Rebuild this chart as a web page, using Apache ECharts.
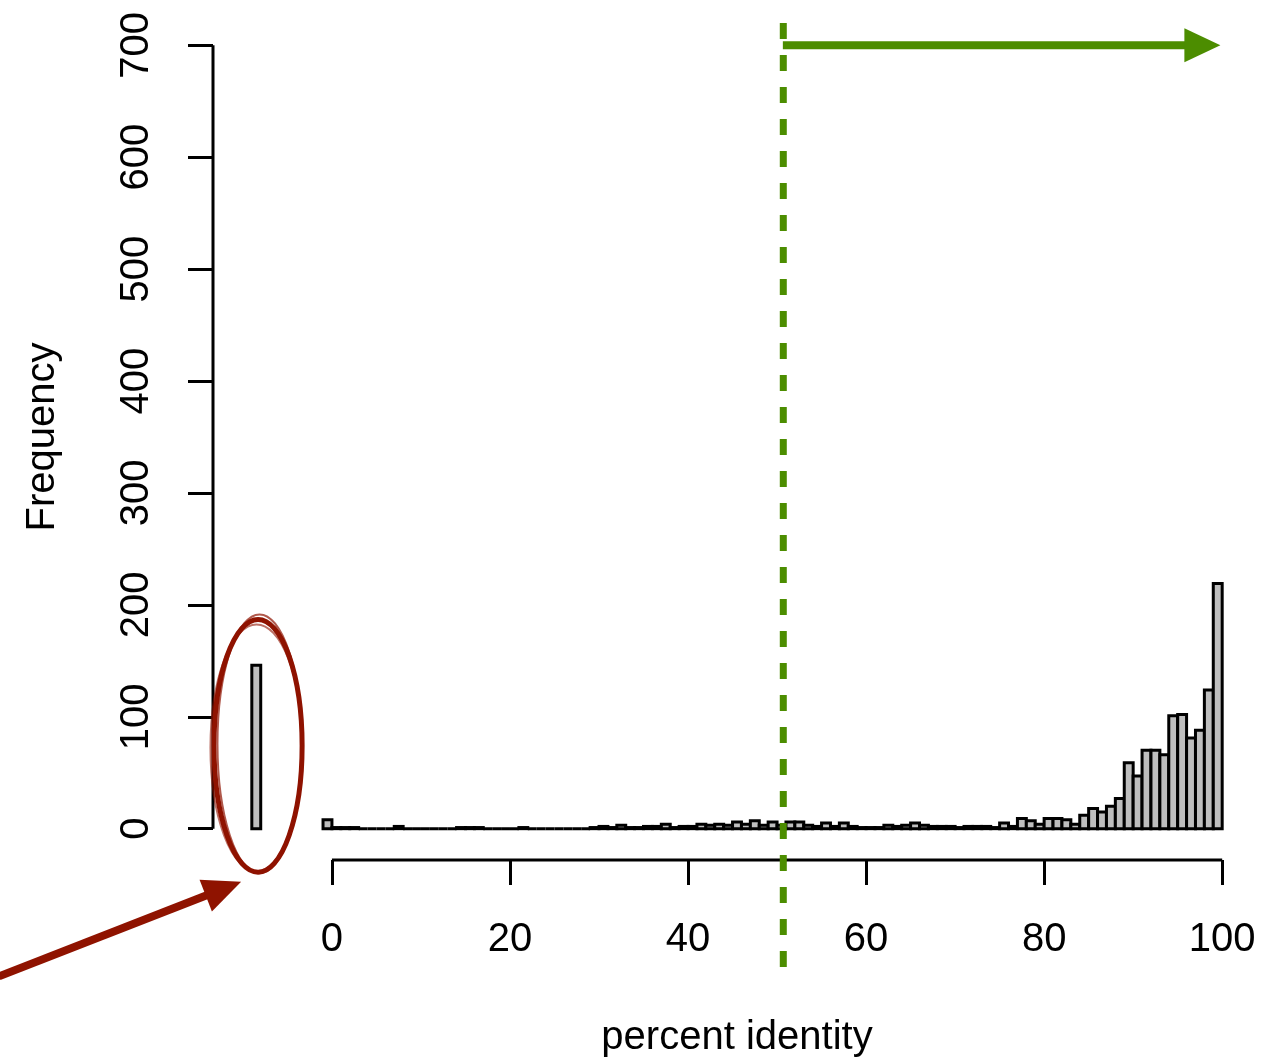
<!DOCTYPE html>
<html>
<head>
<meta charset="utf-8">
<script src="https://cdn.jsdelivr.net/npm/echarts@6/dist/echarts.min.js"></script>
<style>
html,body{margin:0;padding:0;background:#fff;}
#chart{width:1288px;height:1062px;}
</style>
</head>
<body>
<div id="chart"></div>
<script>
// ---- data ----
// histogram bins: right edges (each bin is 1 unit wide, (edge-1, edge])
const binRightEdges = [-8, 0,1,2,3,4,5,6,7,8,9,10,11,12,13,14,15,16,17,18,19,20,21,22,23,24,25,26,27,28,29,30,31,32,33,34,35,36,37,38,39,40,41,42,43,44,45,46,47,48,49,50,51,52,53,54,55,56,57,58,59,60,61,62,63,64,65,66,67,68,69,70,71,72,73,74,75,76,77,78,79,80,81,82,83,84,85,86,87,88,89,90,91,92,93,94,95,96,97,98,99,100];
const binCounts = [146, 8,1,1,1,0,0,0,0,2,0,0,0,0,0,0,1,1,1,0,0,0,0,1,0,0,0,0,0,0,0,1,2,1,3,1,1,2,2,4,1,2,2,4,3,4,3,6,4,7,3,6,3,6,6,3,2,5,2,5,2,1,1,1,3,2,3,5,3,2,2,2,1,2,2,2,1,5,2,9,7,4,9,9,8,4,12,18,15,20,27,59,47,70,70,66,101,102,81,88,124,219];
const xTicks = [0,20,40,60,80,100];
const yTicks = [0,100,200,300,400,500,600,700];
const cutoff = 50.7;          // dashed threshold line position
const arrowEnd = 99.8;        // green arrow tip
const arrowLevel = 700;       // green arrow height
const xRange = [-13.36, 104.36];
const yRange = [-28, 728];

const barData = binRightEdges.map((r, i) => [r - 1, r, binCounts[i]]);

const font = "'Liberation Sans', Arial, Helvetica, sans-serif";
const red = '#8f1300';
const green = '#4c8d00';
const lw = 3;

const chart = echarts.init(document.getElementById('chart'));

function arrowHead(tip, from, len, half) {
  const dx = tip[0] - from[0], dy = tip[1] - from[1];
  const L = Math.sqrt(dx*dx + dy*dy);
  const ux = dx / L, uy = dy / L;
  const bx = tip[0] - len * ux, by = tip[1] - len * uy;
  const nx = -uy, ny = ux;
  return {
    base: [bx + 0.3*len*ux, by + 0.3*len*uy],
    pts: [tip, [bx + half*nx, by + half*ny], [bx - half*nx, by - half*ny]]
  };
}

chart.setOption({
  animation: false,
  backgroundColor: '#fff',
  grid: { left: 213, right: 27, top: 14, bottom: 202, containLabel: false, outerBoundsMode: 'none' },
  xAxis: {
    type: 'value', min: xRange[0], max: xRange[1],
    splitLine: { show: false },
    axisLine: { show: false, onZero: false },
    axisTick: { show: true, customValues: xTicks, length: 25, lineStyle: { color: '#000', width: lw } },
    axisLabel: { show: true, customValues: xTicks, margin: 60, fontSize: 40, color: '#000', fontFamily: font },
    name: 'percent identity', nameLocation: 'middle', nameGap: 158,
    nameTextStyle: { fontSize: 40, color: '#000', fontFamily: font }
  },
  yAxis: {
    type: 'value', min: yRange[0], max: yRange[1],
    splitLine: { show: false },
    axisLine: { show: false, onZero: false },
    axisTick: { show: true, customValues: yTicks, length: 25, lineStyle: { color: '#000', width: lw } },
    axisLabel: { show: true, customValues: yTicks, rotate: 90, margin: 56, fontSize: 40, color: '#000', fontFamily: font },
    name: 'Frequency', nameLocation: 'middle', nameGap: 150, nameRotate: 90,
    nameTextStyle: { fontSize: 40, color: '#000', fontFamily: font }
  },
  series: [
    { // y axis line (0..700)
      type: 'line', data: [[xRange[0], yTicks[0]], [xRange[0], yTicks[yTicks.length-1]]],
      symbol: 'none', clip: false, silent: true,
      lineStyle: { color: '#000', width: lw }
    },
    { // x axis line (0..100)
      type: 'line', data: [[xTicks[0], yRange[0]], [xTicks[xTicks.length-1], yRange[0]]],
      symbol: 'none', clip: false, silent: true,
      lineStyle: { color: '#000', width: lw }
    },
    { // histogram bars
      type: 'custom', data: barData, clip: false,
      renderItem: function (params, api) {
        const p0 = api.coord([api.value(0), api.value(2)]);
        const p1 = api.coord([api.value(1), 0]);
        return {
          type: 'rect',
          shape: { x: p0[0], y: p0[1], width: p1[0] - p0[0], height: p1[1] - p0[1] },
          style: { fill: '#bebebe', stroke: '#000', lineWidth: lw }
        };
      }
    },
    { // annotations
      type: 'custom', data: [[0]], clip: false, silent: true, z: 10,
      renderItem: function (params, api) {
        const children = [];
        // green dashed cutoff line
        const gTop = api.coord([cutoff, 720]);
        const gBot = api.coord([cutoff, -124]);
        children.push({ type: 'line', shape: { x1: gTop[0], y1: gTop[1], x2: gBot[0], y2: gBot[1] },
          style: { stroke: green, lineWidth: 7, lineDash: [16, 16] } });
        // green arrow
        const aStart = api.coord([cutoff - 0.05, arrowLevel]);
        const aTip = api.coord([arrowEnd, arrowLevel]);
        const gh = arrowHead(aTip, aStart, 36, 17);
        children.push({ type: 'line', shape: { x1: aStart[0], y1: aStart[1], x2: gh.base[0], y2: gh.base[1] },
          style: { stroke: green, lineWidth: 8 } });
        children.push({ type: 'polygon', shape: { points: gh.pts }, style: { fill: green } });
        // red ellipse around outlier bar
        const c = api.coord([-8.3, 74]);
        const e = api.coord([-3.35, 187]);
        const rx = e[0] - c[0], ry = c[1] - e[1];
        const offs = [[0,0,0,0,5,1],[1.5,-2,-2,3,2,0.7],[-1.5,2,2,-3,2,0.6]];
        offs.forEach(o => {
          const cx = c[0] + o[0], cy = c[1] + o[1], a = rx + o[2], b = ry + o[3];
          children.push({ type: 'path', shape: {
              pathData: 'M' + (cx - a) + ' ' + cy + ' A' + a + ' ' + b + ' 0 1 0 ' + (cx + a) + ' ' + cy +
                        ' A' + a + ' ' + b + ' 0 1 0 ' + (cx - a) + ' ' + cy + ' Z' },
            style: { fill: 'none', stroke: red, lineWidth: o[4], opacity: o[5] } });
        });
        // red arrow
        const rStart = api.coord([-37.4, -132]);
        const rTip = api.coord([-10.2, -47.5]);
        const rh = arrowHead(rTip, rStart, 38, 17);
        children.push({ type: 'line', shape: { x1: rStart[0], y1: rStart[1], x2: rh.base[0], y2: rh.base[1] },
          style: { stroke: red, lineWidth: 8 } });
        children.push({ type: 'polygon', shape: { points: rh.pts }, style: { fill: red } });
        return { type: 'group', children: children };
      }
    }
  ]
});
</script>
</body>
</html>
